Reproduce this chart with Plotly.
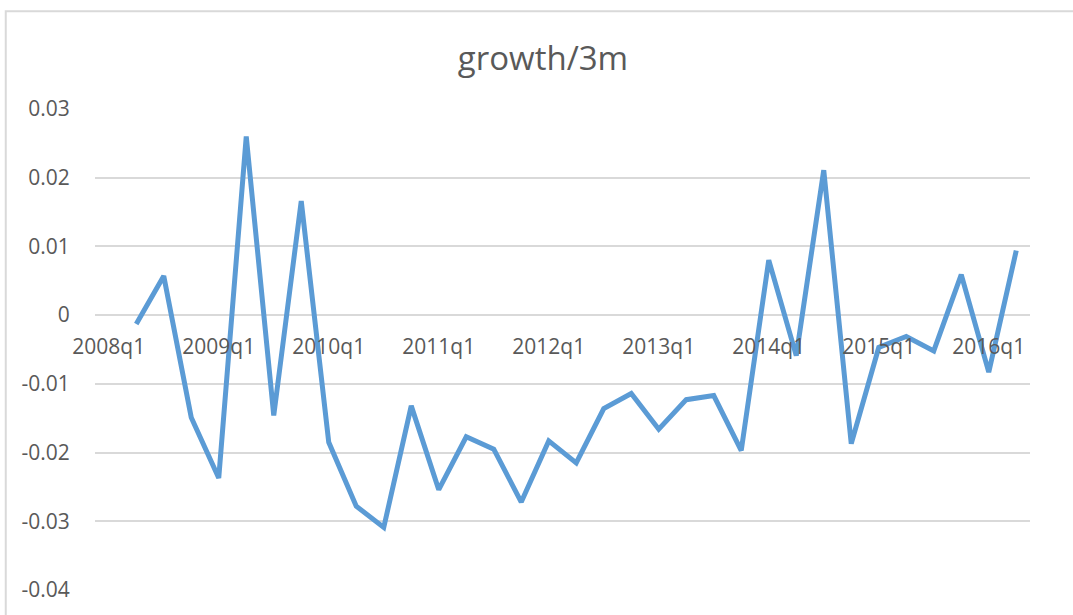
import plotly.graph_objects as go

# ---- data ----
quarters = [f"{y}q{q}" for y in range(2008, 2017) for q in range(1, 5)][:34]  # 2008q1 .. 2016q2
growth = [None,
          -0.0013, 0.0057, -0.0149, -0.0237, 0.0260, -0.0146, 0.0166, -0.0185,
          -0.0278, -0.0309, -0.0132, -0.0254, -0.0177, -0.0195, -0.0272, -0.0183,
          -0.0215, -0.0136, -0.0114, -0.0166, -0.0123, -0.0117, -0.0197, 0.0080,
          -0.0059, 0.0211, -0.0187, -0.0047, -0.0031, -0.0052, 0.0059, -0.0083,
          0.0094]
x_tick_labels = [q for q in quarters if q.endswith("q1")]
y_tick_vals = [0.03, 0.02, 0.01, 0, -0.01, -0.02, -0.03, -0.04]
y_tick_text = ["0.03", "0.02", "0.01", "0", "-0.01", "-0.02", "-0.03", "-0.04"]
title_text = "growth/3m"

W, H = 1073, 615
L, R, T, B = 95.25, 1030.25, 109.0, 592.7

fig = go.Figure()
fig.add_trace(go.Scatter(
    x=quarters, y=growth, mode="lines",
    line=dict(color="#5B9BD5", width=5),
    connectgaps=False, hoverinfo="x+y", showlegend=False,
))

zero_pos = (B - 316.7) / (B - T)

fig.update_layout(
    width=W, height=H,
    margin=dict(l=L, r=W - R, t=T, b=H - B, pad=0),
    paper_bgcolor="white", plot_bgcolor="white",
    font=dict(family="Open Sans", color="#595959", size=21),
    title=dict(text=title_text, x=543 / W, xanchor="center", xref="container",
               y=1 - 58 / H, yanchor="middle", yref="container",
               font=dict(family="Open Sans", size=33, color="#595959")),
    xaxis=dict(
        type="category", categoryorder="array", categoryarray=quarters,
        range=[-0.5, len(quarters) - 0.5],
        tickmode="array", tickvals=x_tick_labels, ticktext=x_tick_labels,
        showgrid=False, zeroline=False, showline=False,
        anchor="free", position=zero_pos,
        ticks="outside", ticklen=12, tickcolor="rgba(0,0,0,0)",
        tickfont=dict(size=21, color="#595959"),
    ),
    yaxis=dict(
        range=[-0.04, 0.03],
        tickmode="array", tickvals=y_tick_vals, ticktext=y_tick_text,
        showgrid=True, gridcolor="#D9D9D9", gridwidth=1.5,
        zeroline=True, zerolinecolor="#D9D9D9", zerolinewidth=1.5,
        showline=False,
        ticks="outside", ticklen=20, tickcolor="rgba(0,0,0,0)",
        tickfont=dict(size=21, color="#595959"),
    ),
    shapes=[dict(
        type="rect", xref="paper", yref="paper",
        x0=(6 - L) / (R - L), x1=(1085 - L) / (R - L),
        y0=(B - 640) / (B - T), y1=(B - 10.7) / (B - T),
        line=dict(color="#D9D9D9", width=2), fillcolor="rgba(0,0,0,0)",
        layer="below",
    )],
)

fig.write_html("out.html")
